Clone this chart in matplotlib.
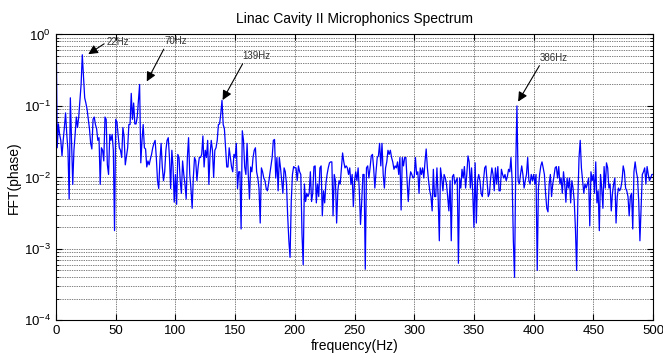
import numpy as np
import matplotlib
matplotlib.use("Agg")
import matplotlib.pyplot as plt
from matplotlib.ticker import LogLocator, NullLocator, NullFormatter

plt.rcParams['font.family'] = ['Liberation Sans Narrow', 'Liberation Sans', 'DejaVu Sans']

# FFT magnitude of the phase signal, one value per Hz (0..500 Hz)
fft_phase = [
    2.0, 0.026, 0.056, 0.04, 0.033, 0.02, 0.033, 0.05, 0.08, 0.04,            # 0
    0.024, 0.005, 0.13, 0.033, 0.008, 0.024, 0.04, 0.07, 0.05, 0.07,          # 10
    0.12, 0.2, 0.52, 0.26, 0.13, 0.11, 0.09, 0.065, 0.048, 0.03,              # 20
    0.025, 0.065, 0.07, 0.055, 0.048, 0.033, 0.036, 0.008, 0.026, 0.024,      # 30
    0.017, 0.07, 0.065, 0.015, 0.011, 0.04, 0.033, 0.04, 0.024, 0.0018,       # 40
    0.065, 0.06, 0.04, 0.026, 0.024, 0.019, 0.05, 0.037, 0.015, 0.02,         # 50
    0.026, 0.055, 0.055, 0.15, 0.065, 0.11, 0.056, 0.056, 0.07, 0.12,         # 60
    0.2, 0.016, 0.033, 0.055, 0.026, 0.025, 0.014, 0.017, 0.015, 0.018,      # 70
    0.021, 0.026, 0.03, 0.033, 0.019, 0.009, 0.007, 0.017, 0.03, 0.014,      # 80
    0.009, 0.012, 0.024, 0.033, 0.036, 0.019, 0.007, 0.024, 0.014, 0.0045,    # 90
    0.011, 0.0042, 0.021, 0.019, 0.009, 0.006, 0.017, 0.011, 0.008, 0.005,    # 100
    0.019, 0.036, 0.011, 0.007, 0.0037, 0.010, 0.019, 0.017, 0.009, 0.014,    # 110
    0.019, 0.019, 0.021, 0.038, 0.014, 0.024, 0.019, 0.033, 0.008, 0.021,     # 120
    0.033, 0.024, 0.010, 0.024, 0.026, 0.033, 0.055, 0.056, 0.078, 0.12,      # 130
    0.055, 0.048, 0.026, 0.014, 0.014, 0.026, 0.019, 0.014, 0.012, 0.021,     # 140
    0.019, 0.03, 0.007, 0.012, 0.012, 0.0019, 0.045, 0.033, 0.014, 0.011,     # 150
    0.03, 0.011, 0.005, 0.014, 0.012, 0.019, 0.024, 0.026, 0.012, 0.0098,     # 160
    0.007, 0.0023, 0.0136, 0.012, 0.0098, 0.009, 0.007, 0.0065, 0.0081, 0.011,  # 170
    0.0145, 0.019, 0.033, 0.034, 0.0098, 0.019, 0.0065, 0.019, 0.0136, 0.009,   # 180
    0.006, 0.0136, 0.012, 0.0081, 0.0029, 0.0013, 0.00076, 0.0046, 0.011, 0.0142,  # 190
    0.0136, 0.0136, 0.009, 0.0145, 0.012, 0.011, 0.0016, 0.0006, 0.0081, 0.0046,   # 200
    0.006, 0.0054, 0.006, 0.012, 0.0046, 0.006, 0.0142, 0.0145, 0.0044, 0.0081,    # 210
    0.0054, 0.0136, 0.0145, 0.0029, 0.0065, 0.0044, 0.0081, 0.011, 0.0136, 0.016,  # 220
    0.0165, 0.0165, 0.0029, 0.011, 0.009, 0.0023, 0.0065, 0.009, 0.0081, 0.0136,   # 230
    0.022, 0.0165, 0.0136, 0.0145, 0.0136, 0.011, 0.0136, 0.008, 0.011, 0.0039,    # 240
    0.009, 0.012, 0.009, 0.0136, 0.0065, 0.0022, 0.0046, 0.011, 0.011, 0.00052,    # 250
    0.0136, 0.0145, 0.0098, 0.0136, 0.02, 0.021, 0.0136, 0.0071, 0.012, 0.019,     # 260
    0.02, 0.03, 0.0145, 0.03, 0.011, 0.0071, 0.0136, 0.0165, 0.024, 0.021,         # 270
    0.024, 0.019, 0.0165, 0.013, 0.0145, 0.0136, 0.0165, 0.011, 0.019, 0.0035,     # 280
    0.019, 0.0145, 0.019, 0.019, 0.009, 0.0046, 0.009, 0.012, 0.011, 0.0098,       # 290
    0.0103, 0.019, 0.011, 0.012, 0.006, 0.0136, 0.011, 0.0136, 0.0098, 0.0165,     # 300
    0.025, 0.0136, 0.009, 0.0065, 0.0054, 0.0034, 0.013, 0.0054, 0.0054, 0.0136,   # 310
    0.0054, 0.0013, 0.0136, 0.0098, 0.0065, 0.011, 0.0098, 0.0081, 0.0054, 0.0034, # 320
    0.009, 0.0013, 0.0103, 0.011, 0.0081, 0.009, 0.0098, 0.00063, 0.0098, 0.0071,  # 330
    0.013, 0.0098, 0.0142, 0.0071, 0.011, 0.02, 0.0165, 0.0071, 0.0136, 0.006,     # 340
    0.002, 0.016, 0.0023, 0.009, 0.011, 0.009, 0.006, 0.0054, 0.009, 0.0136,       # 350
    0.0145, 0.009, 0.0054, 0.006, 0.0098, 0.0136, 0.011, 0.0065, 0.0136, 0.0081,   # 360
    0.0142, 0.0065, 0.0065, 0.013, 0.011, 0.0098, 0.011, 0.009, 0.0103, 0.013,     # 370
    0.012, 0.019, 0.009, 0.0013, 0.0004, 0.0145, 0.1, 0.009, 0.0081, 0.011,        # 380
    0.0145, 0.011, 0.0071, 0.009, 0.011, 0.019, 0.009, 0.0081, 0.011, 0.009,       # 390
    0.011, 0.0081, 0.011, 0.0005, 0.0071, 0.011, 0.0145, 0.0165, 0.0136, 0.011,    # 400
    0.006, 0.0037, 0.0033, 0.0081, 0.011, 0.0054, 0.0081, 0.0103, 0.0136, 0.0142,  # 410
    0.0098, 0.0142, 0.0081, 0.0098, 0.006, 0.012, 0.0081, 0.0045, 0.0098, 0.0071,  # 420
    0.0098, 0.0044, 0.009, 0.0071, 0.0046, 0.0019, 0.0005, 0.0046, 0.019, 0.033,   # 430
    0.0136, 0.009, 0.006, 0.0081, 0.0071, 0.0081, 0.0098, 0.0021, 0.012, 0.009,    # 440
    0.011, 0.006, 0.0165, 0.0044, 0.0065, 0.0018, 0.011, 0.0071, 0.0037, 0.0142,   # 450
    0.0071, 0.016, 0.0136, 0.0071, 0.0081, 0.0034, 0.006, 0.0081, 0.0098, 0.0023,  # 460
    0.0054, 0.0071, 0.0065, 0.0071, 0.009, 0.0145, 0.012, 0.0071, 0.0065, 0.0054,  # 470
    0.0029, 0.0054, 0.006, 0.0019, 0.012, 0.0165, 0.012, 0.0098, 0.0046, 0.0013,   # 480
    0.0037, 0.011, 0.012, 0.0136, 0.0081, 0.0142, 0.011, 0.009, 0.0098, 0.011,     # 490
    0.011,                                                                          # 500
]
freq_hz = np.arange(len(fft_phase))

# labelled peaks: (text, arrow tip freq, tip value, text freq, text value)
peak_labels = ['22Hz', '70Hz', '139Hz', '386Hz']
tip_freq = [27, 76, 139.5, 387]
tip_val = [0.53, 0.22, 0.121, 0.115]
text_freq = [42.6, 90.5, 156.4, 405]
text_val = [0.785, 0.80, 0.50, 0.47]

fig = plt.figure(figsize=(6.63, 3.61), dpi=100)
ax = fig.add_axes([0.0845, 0.1125, 0.9005, 0.792])

ax.plot(freq_hz, fft_phase, color='#0000ff', lw=0.9)
ax.set_yscale('log')
ax.set_xlim(0, 500)
ax.set_ylim(1e-4, 1)
ax.set_xticks(np.arange(0, 501, 50))
ax.yaxis.set_major_locator(LogLocator(base=10, numticks=10))
ax.yaxis.set_minor_locator(LogLocator(base=10, subs=np.arange(2, 10), numticks=10))
ax.yaxis.set_minor_formatter(NullFormatter())
ax.xaxis.set_minor_locator(NullLocator())

ax.grid(True, which='major', linestyle=(0, (1, 1.5)), color='k', lw=0.5)
ax.grid(True, which='minor', axis='y', linestyle=(0, (1, 1.5)), color='k', lw=0.5)
ax.tick_params(which='both', direction='in', top=True, right=True, labelsize=9.5)
ax.tick_params(which='major', length=4)
ax.tick_params(which='minor', length=2)
for s in ax.spines.values():
    s.set_linewidth(0.8)

for i, lab in enumerate(peak_labels):
    rel = (0, 0.5) if i == 0 else (0.05, 0)
    ax.annotate(lab, xy=(tip_freq[i], tip_val[i]), xytext=(text_freq[i], text_val[i]),
                ha='left', va='center', fontsize=7, color='#333333',
                arrowprops=dict(arrowstyle='-|>', color='k', lw=0.8, mutation_scale=14,
                                shrinkA=0, shrinkB=0, relpos=rel))

ax.set_title('Linac Cavity II Microphonics Spectrum', fontsize=10, pad=8)
ax.set_xlabel('frequency(Hz)', fontsize=10, labelpad=1)
ax.set_ylabel('FFT(phase)', fontsize=10, labelpad=2)

fig.savefig('out.png', dpi=100)
